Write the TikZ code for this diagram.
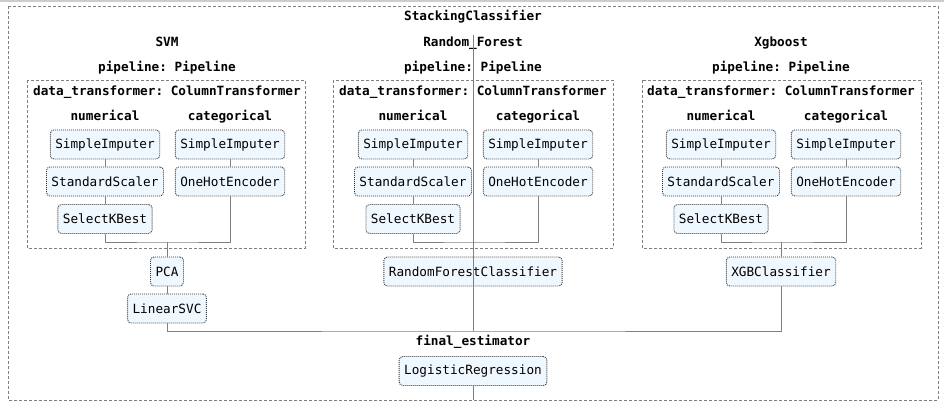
\documentclass[tikz,border=0pt]{standalone}
\usepackage{fontspec}
\setmonofont{DejaVu Sans Mono}
\definecolor{skfill}{HTML}{F0F8FF}
\definecolor{skline}{HTML}{808080}
\definecolor{skbord}{HTML}{3A3A3A}
\begin{document}
\begin{tikzpicture}[x=1pt,y=-1pt,
  est/.style={draw=skbord, dash pattern=on 1pt off 1pt, line width=0.9pt, fill=skfill, rounded corners=3.5pt,
    font=\ttfamily\fontsize{12.7}{14}\selectfont, text=black,
    minimum height=29pt, inner xsep=5pt, inner ysep=0pt},
  lbl/.style={font=\ttfamily\bfseries\fontsize{12.7}{14}\selectfont, inner sep=0pt, text=black,
    text height=9pt, text depth=3pt},
  grp/.style={draw=skline, dash pattern=on 3pt off 2pt, line width=0.8pt},
  conn/.style={draw=skline, line width=1pt}]
\useasboundingbox (0,0) rectangle (944,412);
\fill[white] (0,0) rectangle (944,412);
\draw[black!20, line width=2pt] (0,1) -- (944,1);
% group boxes
\draw[grp] (8,6) rectangle (938,400);
\draw[grp] (27,80) rectangle (305,248);
\draw[grp] (333,80) rectangle (613,248);
\draw[grp] (642,80) rectangle (921,248);
% labels
\node[lbl] (title) at (473,18) {StackingClassifier};
\node[lbl] (lsvm) at (167,43) {SVM};
\node[lbl] (lrf) at (473,43) {Random\_Forest};
\node[lbl] (lxgb) at (781,43) {Xgboost};
\foreach \c/\n in {167/a,473/b,781/c}{
  \node[lbl] (pp\n) at (\c,68) {pipeline: Pipeline};
  \node[lbl] (dt\n) at (\c,92) {data\_transformer: ColumnTransformer};
}
\foreach \c/\n in {105/a,413/b,721/c}{
  \node[lbl] (num\n) at (\c,117) {numerical};
}
\foreach \c/\n in {230/a,538/b,846/c}{
  \node[lbl] (cat\n) at (\c,117) {categorical};
}
\node[lbl] (fe) at (473,342) {final\_estimator};
% coordinates
\coordinate (ja) at (167,242);
\coordinate (jb) at (473,242);
\coordinate (jc) at (781,242);
\coordinate (fj) at (473,331);
\coordinate (topb) at (473,35);
\coordinate (botb) at (473,400);
% estimators
\foreach \n/\x/\y in {a/105/230,b/413/538,c/721/846}{
  \node[est] (si\n) at (\x,144.5) {SimpleImputer};
  \node[est] (ss\n) at (\x,181.5) {StandardScaler};
  \node[est] (kb\n) at (\x,219) {SelectKBest};
  \node[est] (sc\n) at (\y,144.5) {SimpleImputer};
  \node[est] (oh\n) at (\y,181.5) {OneHotEncoder};
}
\node[est] (pca) at (167,271.5) {PCA};
\node[est] (lsvc) at (167,308.5) {LinearSVC};
\node[est] (rfc) at (473,271.5) {RandomForestClassifier};
\node[est] (xgb) at (781,271.5) {XGBClassifier};
\node[est] (lr) at (473,371) {LogisticRegression};
% connectors
\foreach \n in {a,b,c}{
  \draw[conn] (si\n) -- (ss\n);
  \draw[conn] (ss\n) -- (kb\n);
  \draw[conn] (sc\n) -- (oh\n);
  \draw[conn] (kb\n.south) |- (j\n) -| (oh\n.south);
}
\draw[conn] (ja) -- (pca.north);
\draw[conn] (pca) -- (lsvc);
\draw[conn] (jc) -- (xgb.north);
\draw[conn] (lsvc.south) |- (fj) -| (xgb.south);
\draw[conn] (topb) -- (fj);
\draw[conn] (lr.south) -- (botb);
\end{tikzpicture}
\end{document}
